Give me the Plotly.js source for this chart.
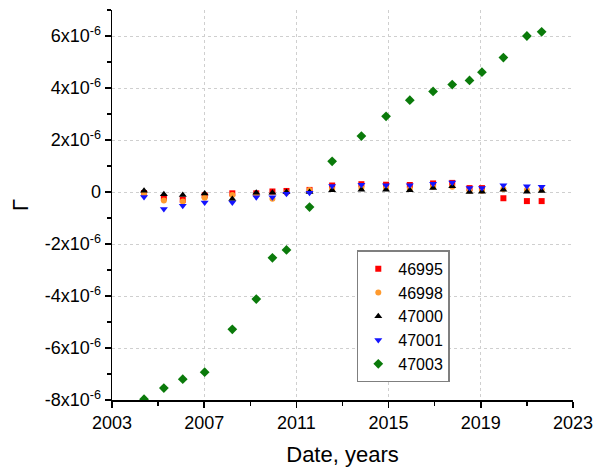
<!DOCTYPE html>
<html>
<head>
<meta charset="utf-8">
<script src="https://cdn.plot.ly/plotly-3.0.1.min.js"></script>
<style>html,body{margin:0;padding:0;background:#fff;}#chart{width:595px;height:471px;}</style>
</head>
<body>
<div id="chart"></div>
<script>
// Observation dates (decimal years)
const dates = [2004.39, 2005.25, 2006.07, 2007.02, 2008.22, 2009.26, 2009.96, 2010.57, 2011.57, 2012.55,
               2013.82, 2014.89, 2015.92, 2016.93, 2017.76, 2018.51, 2019.05, 2019.98, 2021.00, 2021.64];
// Gamma values in units of 1e-6
const s46995 = [-0.04, -0.22, -0.30, -0.13, -0.05, -0.05, 0.02, 0.04, 0.08, 0.25,
                0.30, 0.28, 0.27, 0.33, 0.35, 0.15, 0.15, -0.24, -0.35, -0.35];
const s46998 = [-0.08, -0.33, -0.37, -0.22, -0.12, -0.12, -0.26, -0.03, 0.08, 0.12,
                0.15, 0.15, 0.12, 0.20, 0.20, 0.05, 0.05, 0.12, 0.08, 0.10];
const s47000 = [0.05, -0.09, -0.12, -0.06, -0.27, -0.03, -0.03, 0.00, 0.00, 0.07,
                0.09, 0.09, 0.07, 0.15, 0.22, 0.00, 0.01, 0.09, 0.01, 0.04];
const s47001 = [-0.19, -0.65, -0.53, -0.40, -0.40, -0.20, -0.20, -0.07, -0.03, 0.23,
                0.28, 0.26, 0.26, 0.32, 0.37, 0.15, 0.15, 0.26, 0.22, 0.20];
const s47003 = [-7.97, -7.54, -7.20, -6.93, -5.28, -4.12, -2.53, -2.23, -0.58, 1.18,
                2.15, 2.91, 3.53, 3.87, 4.13, 4.29, 4.61, 5.17, 6.00, 6.16];
const seriesNames = ['46995', '46998', '47000', '47001', '47003'];
const xTicks = [2003, 2007, 2011, 2015, 2019, 2023];
const yTickVals = [-8, -6, -4, -2, 0, 2, 4, 6];
const yTickText = ['-8x10<sup>-6</sup>', '-6x10<sup>-6</sup>', '-4x10<sup>-6</sup>', '-2x10<sup>-6</sup>', '0',
                   '2x10<sup>-6</sup>', '4x10<sup>-6</sup>', '6x10<sup>-6</sup>'];

const scale = v => v.map(d => d * 1e-6);
const styles = [
  {color: '#ff0000', symbol: 'square', size: 6},
  {color: '#ff9a2e', symbol: 'circle', size: 6},
  {color: '#000000', symbol: 'triangle-up', size: 7},
  {color: '#1414ff', symbol: 'triangle-down', size: 7},
  {color: '#0a7a0a', symbol: 'diamond', size: 7.5}
];
const allSeries = [s46995, s46998, s47000, s47001, s47003];
const traces = allSeries.map((s, i) => ({
  x: dates, y: scale(s), name: seriesNames[i], type: 'scatter', mode: 'markers',
  marker: {color: styles[i].color, symbol: styles[i].symbol, size: styles[i].size, line: {width: 0}}
}));

const font = {family: 'Liberation Sans, Arial, sans-serif', color: '#000'};
const layout = {
  width: 595, height: 471,
  margin: {l: 112, r: 22, t: 10, b: 71},
  paper_bgcolor: '#fff', plot_bgcolor: '#fff',
  font: Object.assign({size: 18}, font),
  showlegend: true,
  legend: {
    x: 0.531, y: 0.384, xanchor: 'left', yanchor: 'top',
    bordercolor: '#7f7f7f', borderwidth: 1.5, bgcolor: '#fff',
    font: Object.assign({size: 16}, font), itemsizing: 'trace',
    entrywidth: 58, entrywidthmode: 'pixels'
  },
  xaxis: {
    range: [2003, 2023], tickmode: 'array', tickvals: xTicks, ticktext: xTicks.map(String),
    ticks: 'outside', ticklen: 6, tickwidth: 1.5, tickcolor: '#000',
    showline: true, linecolor: '#000', linewidth: 1.5, zeroline: false, mirror: false,
    showgrid: true, gridcolor: '#cfcfcf', griddash: 'dot', gridwidth: 1,
    tickfont: Object.assign({size: 18}, font),
    minor: {tickmode: 'linear', tick0: 2005, dtick: 4, ticks: 'outside', ticklen: 4, tickwidth: 1.5, tickcolor: '#000', showgrid: false},
    title: {text: 'Date, years', font: Object.assign({size: 22}, font), standoff: 14}
  },
  yaxis: {
    range: [-8e-6, 7e-6], tickmode: 'array', tickvals: scale(yTickVals), ticktext: yTickText,
    ticks: 'outside', ticklen: 6, tickwidth: 1.5, tickcolor: '#000',
    showline: true, linecolor: '#000', linewidth: 1.5, zeroline: false, mirror: false,
    showgrid: true, gridcolor: '#cfcfcf', griddash: 'dot', gridwidth: 1,
    tickfont: Object.assign({size: 18}, font),
    minor: {tickmode: 'linear', tick0: -7e-6, dtick: 2e-6, ticks: 'outside', ticklen: 4, tickwidth: 1.5, tickcolor: '#000', showgrid: false},
    title: {text: 'Γ', font: Object.assign({size: 22}, font), standoff: 10}
  }
};
Plotly.newPlot('chart', traces, layout, {staticPlot: true, displayModeBar: false});
</script>
</body>
</html>
